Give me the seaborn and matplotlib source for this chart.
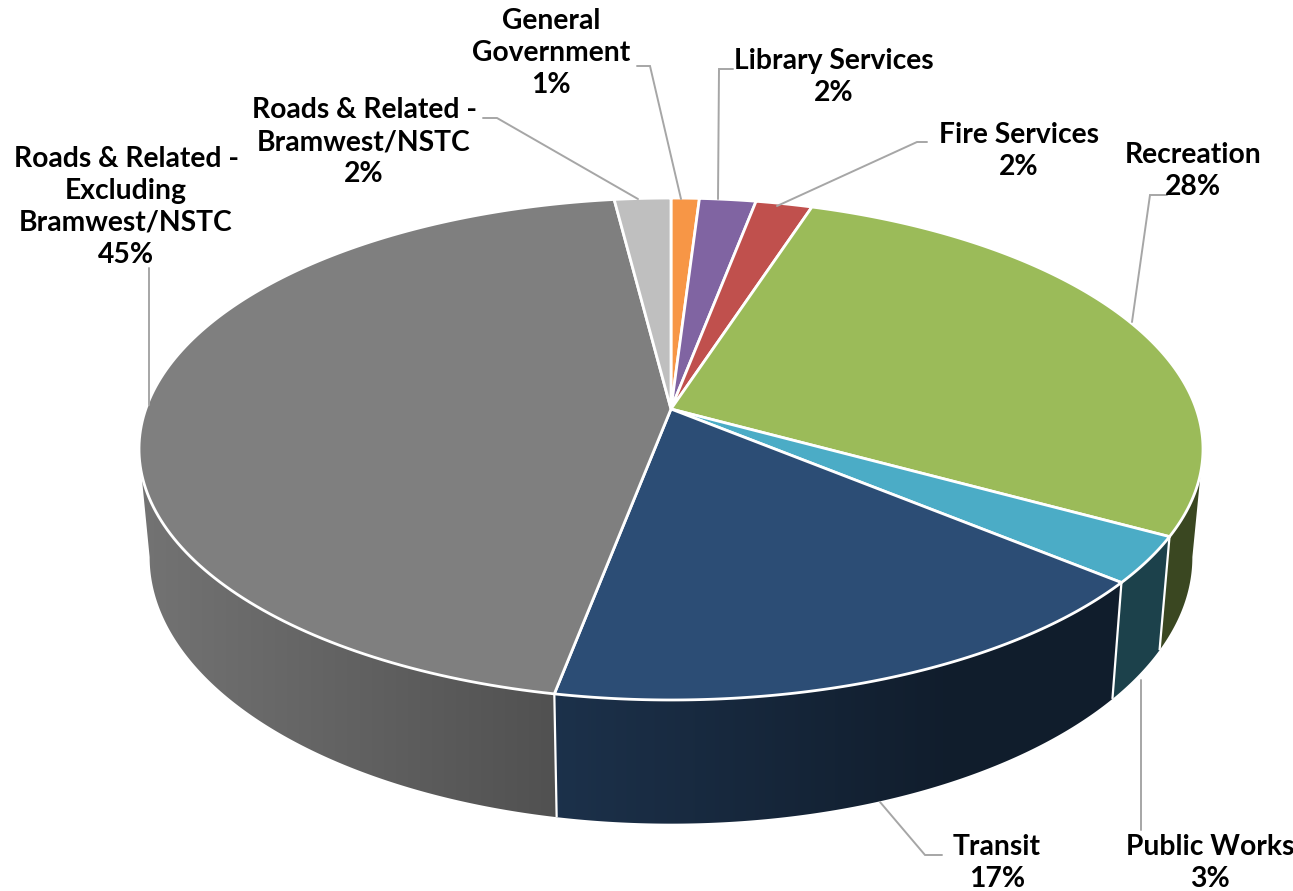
import numpy as np
import matplotlib
matplotlib.use("Agg")
import matplotlib.pyplot as plt
from matplotlib.patches import Polygon
import seaborn as sns

# Capital spending shares, clockwise from twelve o'clock
categories = ["General\nGovernment", "Library Services", "Fire Services", "Recreation",
              "Public Works", "Transit", "Roads & Related -\nExcluding\nBramwest/NSTC",
              "Roads & Related -\nBramwest/NSTC"]
shares = [1, 2, 2, 28, 3, 17, 45, 2]
slice_colors = ["#f79646", "#8064a2", "#c0504d", "#9bbb59",
                "#4bacc6", "#2c4d75", "#7f7f7f", "#bfbfbf"]

# Label centres and leader-line routes, in figure pixels
label_centers = [(551, 53), (834, 77), (1019, 151), (1193, 171),
                 (1210, 863), (997, 863), (126, 207), (364, 142)]
leader_routes = [
    [(637, 66), (650, 66), (681, 199)],
    [(733, 69), (719, 69), (718, 199)],
    [(927, 142), (917, 142), (777, 206)],
    [(1167, 195), (1150, 195), (1132, 322)],
    [(1141, 830), (1141, 680)],
    [(942, 855), (925, 855), (880, 802)],
    [(149, 268), (149, 405)],
    [(483, 118), (497, 118), (638, 199)],
]

# Perspective disc: image of a unit circle seen from in front and above
CX, P = 671.0, 0.1594
TOP = dict(a=525.2, b=244.6, y0=409.0)
BOTTOM = dict(a=514.7, b=259.8, y0=514.6)
WIDTH, HEIGHT = 1293, 891


def project(theta, disc):
    """Map clockwise angle from twelve o'clock to a point on a disc's rim."""
    u, v = np.sin(theta), -np.cos(theta)
    w = 1 - P * v
    return CX + disc["a"] * u / w, disc["y0"] + disc["b"] * v / w


def wall_gradient(color):
    """One-row image of a slice colour darkening from left to right."""
    x = np.arange(WIDTH) + 0.5
    factor = np.clip(0.90 - 0.00065 * (x - 150), 0.38, 0.92)
    return np.outer(factor, color)[np.newaxis, :, :]


sns.set_theme(style="white")
plt.rcParams["font.family"] = ["Lato", "DejaVu Sans"]
palette = sns.color_palette(slice_colors)

fig = plt.figure(figsize=(12.93, 8.91), dpi=100)
ax = fig.add_axes([0, 0, 1, 1])

edges = np.cumsum([0] + shares) / sum(shares) * 2 * np.pi
# The wall is visible between the disc's left and right silhouette points
front_start = np.arccos(-P)
front_end = 2 * np.pi - front_start

# Side wall: a horizontal gradient clipped to each slice's visible band
for i, color in enumerate(palette):
    lo, hi = max(edges[i], front_start), min(edges[i + 1], front_end)
    if lo >= hi:
        continue
    th = np.linspace(lo, hi, 200)
    tx, ty = project(th, TOP)
    bx, by = project(th, BOTTOM)
    band = Polygon(list(zip(tx, ty)) + list(zip(bx[::-1], by[::-1])), closed=True,
                   transform=ax.transData, facecolor="none", edgecolor="none")
    ax.add_patch(band)
    img = ax.imshow(wall_gradient(color), extent=(0, WIDTH, HEIGHT, 0), aspect="auto",
                    interpolation="bilinear", zorder=1)
    img.set_clip_path(band)

ax.set_xlim(0, WIDTH)
ax.set_ylim(HEIGHT, 0)
ax.axis("off")

# White seams where visible wall sections meet
for theta in edges[1:-1]:
    if front_start < theta < front_end:
        x0, y0 = project(theta, TOP)
        x1, y1 = project(theta, BOTTOM)
        ax.plot([x0, x1], [y0, y1], color="white", lw=1.6, zorder=2,
                solid_capstyle="butt")

# Top face of the pie
apex = (CX, TOP["y0"])
for i, color in enumerate(palette):
    th = np.linspace(edges[i], edges[i + 1], 160)
    xs, ys = project(th, TOP)
    ax.add_patch(Polygon([apex] + list(zip(xs, ys)), closed=True, facecolor=color,
                         edgecolor="white", linewidth=2.0, joinstyle="round", zorder=3))

# Leader lines and labels
for route in leader_routes:
    rx, ry = zip(*route)
    ax.plot(rx, ry, color="#a6a6a6", lw=1.4, zorder=4, solid_joinstyle="miter")

for name, share, (lx, ly) in zip(categories, shares, label_centers):
    ax.text(lx, ly, f"{name}\n{share}%", ha="center", va="center", color="black",
            fontsize=20.3, fontweight="bold", linespacing=1.284, zorder=5)

fig.savefig("out.png", dpi=100, facecolor="white")
